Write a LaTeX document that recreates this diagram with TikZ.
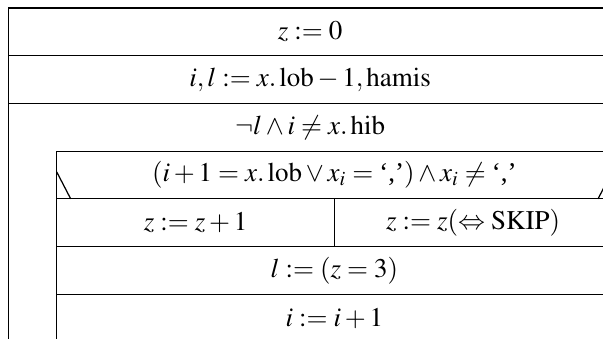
\documentclass[tikz,border=0pt]{standalone}
\usepackage{mathptmx}
\usepackage{fontspec}
\setmainfont{Liberation Serif}
\usetikzlibrary{positioning,calc}

\begin{document}
\begin{tikzpicture}[x=0.4444pt, y=-0.4444pt, line width=0.55pt, every node/.style={font=\fontsize{12}{14}\selectfont}, row/.style={draw, minimum width=268.3pt, minimum height=21.2pt, inner sep=0pt, outer sep=0pt}, inner/.style={row, minimum width=246.8pt}, half/.style={row, minimum width=123.4pt}]
\useasboundingbox (0,0) rectangle (603,338);
\clip (0,0) rectangle (603,338);
\node[row, anchor=north west] (init) at (8.3,8) {$z:=0$};
\node[row, below=0pt of init] (setup) {$i,l:=x.\,\mathrm{lob}-1,\mathrm{hamis}$};
\node[row, draw=none, below=0pt of setup] (loop) {$\neg l\wedge i\neq x.\,\mathrm{hib}$};
\node[inner, anchor=north east] (cond) at (loop.south east) {$(i+1=x.\,\mathrm{lob}\vee x_i=\mbox{`,'})\wedge x_i\neq\mbox{`,'}$};
\node[half, anchor=north west] (yes) at (cond.south west) {$z:=z+1$};\node[half, anchor=north east] (no) at (cond.south east) {$z:=z(\Leftrightarrow\mathrm{SKIP})$};
\node[inner, anchor=north west] (flag) at (yes.south west) {$l:=(z=3)$};
\node[inner, below=0pt of flag] (incr) {$i:=i+1$};
% loop bar and the two corner strokes of the branch
\draw (loop.north west) -- (loop.north west |- incr.south);
\draw ($(cond.south west)+(0,-27)$) -- ($(cond.south west)+(14,0)$);\draw ($(cond.south east)+(0,-27)$) -- ($(cond.south east)+(-14,0)$);
\end{tikzpicture}
\end{document}
